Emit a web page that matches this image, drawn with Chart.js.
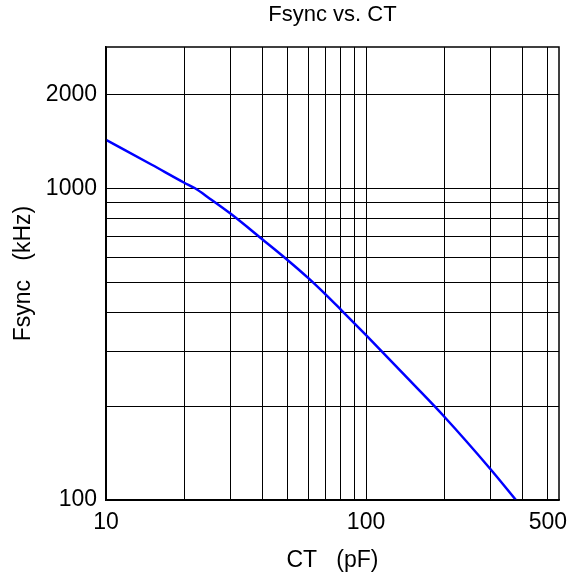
<!DOCTYPE html>
<html>
<head>
<meta charset="utf-8">
<script src="https://cdn.jsdelivr.net/npm/chart.js@4/dist/chart.umd.min.js"></script>
<style>
  html, body { margin: 0; padding: 0; background: #fff; }
  #wrap { width: 579px; height: 580px; }
</style>
</head>
<body>
<div id="wrap"><canvas id="c" width="579" height="580"></canvas></div>
<script>
// ---- data ----
const ctValues    = [10, 15, 20, 22, 25, 30, 40, 50, 60, 70, 80, 100, 150, 200, 300, 377];
const fsyncValues = [1430, 1190, 1042, 1000, 928, 831, 685, 588, 515, 456, 408, 338, 238, 185, 126, 100];

const xGridValues = [10, 20, 30, 40, 50, 60, 70, 80, 90, 100, 200, 300, 400, 500];
const xTickLabels = [10, 100, 500];
const yGridValues = [100, 200, 300, 400, 500, 600, 700, 800, 900, 1000, 2000];
const yTickLabels = [100, 1000, 2000];

const xMin = 10, xMax = 552;
const yMin = 100, yMax = 2840;

const FONT = "'Liberation Sans', Arial, Helvetica, sans-serif";

new Chart(document.getElementById('c'), {
  type: 'line',
  data: {
    datasets: [{
      data: ctValues.map((x, i) => ({ x: x, y: fsyncValues[i] })),
      borderColor: '#0000ff',
      borderWidth: 2.5,
      pointRadius: 0,
      cubicInterpolationMode: 'monotone',
      fill: false
    }]
  },
  options: {
    responsive: false,
    animation: false,
    layout: { padding: { left: 0, right: 20, top: 0, bottom: 0 } },
    plugins: {
      legend: { display: false },
      tooltip: { enabled: false },
      title: {
        display: true,
        text: 'Fsync vs. CT',
        fullSize: false,
        color: '#000',
        font: { family: FONT, size: 22, weight: 'normal' },
        padding: { top: 2, bottom: 18.6 }
      }
    },
    scales: {
      x: {
        type: 'logarithmic',
        min: xMin, max: xMax,
        afterBuildTicks: s => { s.ticks = xGridValues.map(v => ({ value: v })); },
        afterFit: s => { s.height = 80; },
        ticks: {
          autoSkip: false, maxRotation: 0, padding: 9,
          color: '#000',
          font: { family: FONT, size: 23 },
          callback: v => xTickLabels.includes(v) ? String(v) : ''
        },
        grid: { color: '#000', lineWidth: 1, drawTicks: false },
        border: { color: '#000', width: 1.5 },
        title: {
          display: true, text: 'CT   (pF)', color: '#000',
          font: { family: FONT, size: 23 },
          padding: { top: 0, bottom: 6 }
        }
      },
      y: {
        type: 'logarithmic',
        min: yMin, max: yMax,
        afterBuildTicks: s => { s.ticks = yGridValues.map(v => ({ value: v })); },
        afterFit: s => { s.width = 106; },
        ticks: {
          autoSkip: false, padding: 9,
          color: '#000',
          font: { family: FONT, size: 23 },
          callback: v => yTickLabels.includes(v) ? String(v) : ''
        },
        grid: { color: '#000', lineWidth: 1, drawTicks: false },
        border: { color: '#000', width: 1.5 },
        title: {
          display: true, text: 'Fsync   (kHz)', color: '#000',
          font: { family: FONT, size: 23 },
          padding: { top: 10, bottom: 0 }
        }
      }
    }
  },
  plugins: [{
    id: 'frame',
    afterDraw(chart) {
      const a = chart.chartArea, ctx = chart.ctx;
      ctx.save();
      ctx.strokeStyle = '#000';
      ctx.lineWidth = 1.5;
      ctx.strokeRect(a.left, a.top, a.right - a.left, a.bottom - a.top);
      ctx.restore();
    }
  }]
});
</script>
</body>
</html>
